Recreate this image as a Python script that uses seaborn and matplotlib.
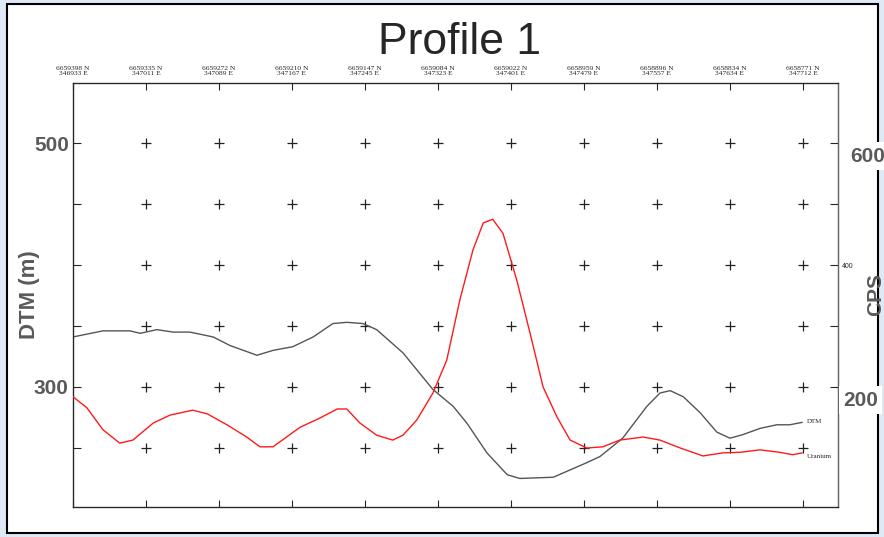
import numpy as np
import pandas as pd
import seaborn as sns
import matplotlib
matplotlib.use('Agg')
import matplotlib.pyplot as plt
from matplotlib.patches import Rectangle

sns.set_style("white")
plt.rcParams['font.family'] = ['Liberation Sans', 'DejaVu Sans']

# distance along profile (m)
dtm_dist = [0, 41, 78, 92, 115, 137, 160, 192, 215, 252, 274, 301, 329, 356, 375, 397, 416,
            452, 493, 521, 540, 567, 595, 612, 658, 704, 722, 753, 786, 804, 818, 836, 859,
            882, 900, 918, 941, 964, 982, 999]
dtm_elev = [341, 346, 346, 344, 347, 345, 345, 341, 334, 326, 330, 333, 341, 352, 353, 352, 347,
            328, 298, 284, 270, 246, 228, 225, 226, 238, 243, 258, 284, 295, 297, 292, 279,
            263, 258, 261, 266, 269, 269, 271]

u_dist = [0, 19, 41, 64, 82, 110, 133, 164, 184, 211, 238, 256, 274, 311, 338, 362, 375, 393,
          416, 438, 452, 471, 493, 512, 530, 548, 562, 575, 589, 608, 626, 644, 663, 681,
          704, 726, 749, 781, 804, 832, 863, 890, 914, 941, 968, 986, 999]
u_cps = [184, 166, 130, 108, 113, 141, 154, 162, 156, 138, 118, 102, 102, 134, 149, 164, 164, 141,
         121, 113, 121, 146, 190, 244, 343, 425, 469, 475, 452, 375, 289, 200, 151, 113,
         100, 102, 113, 118, 113, 100, 87, 92, 93, 97, 93, 89, 92]

stations = [0, 100, 200, 300, 400, 500, 600, 700, 800, 900, 1000]
northing = ["6659398 N", "6659335 N", "6659272 N", "6659210 N", "6659147 N", "6659084 N",
            "6659022 N", "6658959 N", "6658896 N", "6658834 N", "6658771 N"]
easting = ["346933 E", "347011 E", "347089 E", "347167 E", "347245 E", "347323 E",
           "347401 E", "347479 E", "347557 E", "347634 E", "347712 E"]

grid_x = [100, 200, 300, 400, 500, 600, 700, 800, 900, 1000]
grid_y = [250, 300, 350, 400, 450, 500]

W, H = 884, 537
fig = plt.figure(figsize=(W / 100, H / 100), dpi=100)
fig.patch.set_facecolor('#dfe9f5')
frame = Rectangle((7 / W, 1 - 533 / H), 871 / W, 529 / H, transform=fig.transFigure,
                  facecolor='white', edgecolor='black', lw=1.5, zorder=-10)
fig.add_artist(frame)

ax = fig.add_axes([73 / W, 1 - 507 / H, (838 - 73) / W, (507 - 83) / H])
ax.set_facecolor('none')

gx, gy = np.meshgrid(grid_x, grid_y)
sns.scatterplot(x=gx.ravel(), y=gy.ravel(), marker='+', s=45, color='#222222',
                linewidth=0.9, ax=ax, zorder=2)

dtm = pd.DataFrame({'dist': dtm_dist, 'elev': dtm_elev})
sns.lineplot(data=dtm, x='dist', y='elev', color='#555555', lw=1.0, ax=ax, zorder=3)

ax.set_xlim(0, 1048)
ax.set_ylim(201.6, 549.2)
ax.set_yticks([250, 300, 350, 400, 450, 500])
ax.set_yticklabels(['', '300', '', '', '', '500'])
ax.set_xticks(stations)
ax.set_xticklabels([f"{n}\n{e}" for n, e in zip(northing, easting)],
                   fontsize=5.4, family='Liberation Serif', linespacing=1.05)
ax.tick_params(axis='x', direction='in', top=True, bottom=True, labeltop=True,
               labelbottom=False, length=5, width=0.8, pad=5)
ax.tick_params(axis='y', direction='in', length=6, width=0.8, pad=3,
               labelsize=15, labelcolor='#5a5a5a')
for lab in ax.get_yticklabels():
    lab.set_fontweight('bold')
ax.set_xlabel('')
ax.set_ylabel('DTM (m)', fontsize=16, fontweight='bold', color='#5a5a5a')
ax.yaxis.set_label_coords(-0.043, 0.5)
for s in ax.spines.values():
    s.set_color('#222222')
    s.set_linewidth(0.9)
ax.text(1006, 272, 'DTM', fontsize=5, family='Liberation Serif', va='center')

ax2 = ax.twinx()
ax2.set_facecolor('none')
ur = pd.DataFrame({'dist': u_dist, 'cps': u_cps})
sns.lineplot(data=ur, x='dist', y='cps', color='#ff1a1a', lw=1.0, ax=ax2, zorder=3)
ax2.set_ylim(3.3, 698.4)
ax2.set_yticks([200, 300, 400, 500, 600])
ax2.set_yticklabels(['', '', '400', '', ''])
ax2.tick_params(axis='y', direction='in', length=6, width=0.8, pad=3, labelsize=5)
ax2.set_ylabel('CPS', fontsize=15, fontweight='bold', color='#5a5a5a')
ax2.yaxis.set_label_coords(1.037, 0.5)
ax2.spines['right'].set_color('#666666')
ax2.set_xlabel('')
ax2.text(1006, 86, 'Uranium', fontsize=5, family='Liberation Serif', va='center')

# big overlay labels on the right axis
box = dict(facecolor='white', edgecolor='none', pad=3)
fig.text(850 / W, 1 - 156 / H, '600', fontsize=15, fontweight='bold', color='#5a5a5a',
         va='center', ha='left', bbox=box)
fig.text(843 / W, 1 - 400 / H, '200', fontsize=15, fontweight='bold', color='#5a5a5a',
         va='center', ha='left', bbox=box)

fig.text(459 / W, 1 - 42 / H, 'Profile 1', fontsize=32, ha='center', va='center',
         family=['Liberation Sans Narrow', 'Liberation Sans'])

fig.savefig('out.png', dpi=100, facecolor=fig.get_facecolor())
